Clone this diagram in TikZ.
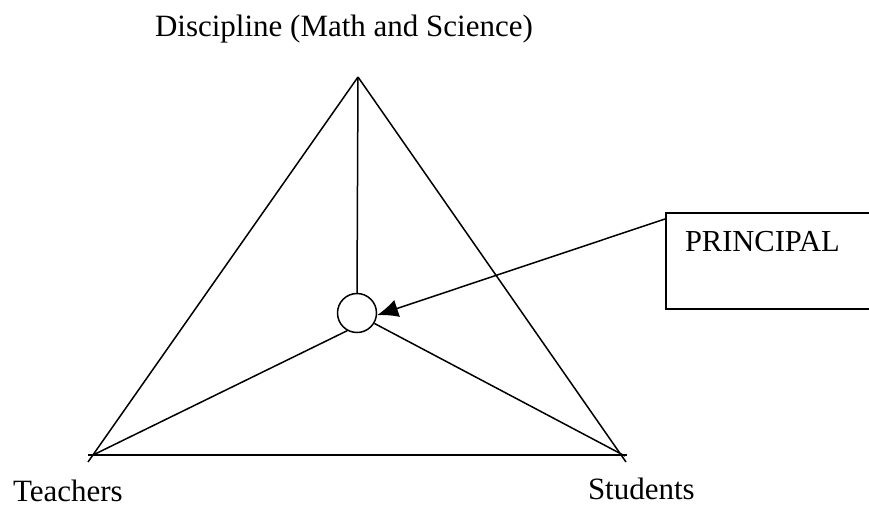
\documentclass[tikz,border=0pt]{standalone}
\usepackage{fontspec}
\setmainfont{Liberation Serif}
\usetikzlibrary{arrows.meta}
\begin{document}
\begin{tikzpicture}[x=1pt,y=-1pt,
  ln/.style={line width=1.5pt},
  lbl/.style={inner sep=0pt,outer sep=0pt,anchor=base west,font=\fontsize{31}{36}\selectfont},
  hub/.style={circle,draw,line width=1.5pt,minimum size=39pt,inner sep=0pt},
  boxst/.style={draw,line width=1.5pt,anchor=north west,minimum width=260pt,minimum height=96pt,inner sep=0pt}]
\useasboundingbox (0,0) rectangle (869,506);
% labels
\node[lbl] (disc) at (155,36) {Discipline (Math and Science)};
\node[lbl] (teach) at (13,501) {Teachers};
\node[lbl] (stud) at (588,499) {Students};
% triangle points
\coordinate (apex) at (358,77);
\coordinate (cl) at (88,462);
\coordinate (cr) at (626,462);
\coordinate (bl) at (88,455);
\coordinate (br) at (627,455);
\coordinate (sl) at (91,456);
\coordinate (sr) at (625,456);
% hub circle
\node[hub] (c) at (357,313) {};
% triangle
\draw[ln] (apex) -- (cl);
\draw[ln] (apex) -- (cr);
\draw[ln] (bl) -- (br);
% spokes
\draw[ln] (apex) -- (c.north);
\draw[ln] (c.241) -- (sl);
\draw[ln] (c.329) -- (sr);
% principal box
\begin{scope}
\clip (0,0) rectangle (869,506);
\node[boxst] (box) at (665,212) {};
\end{scope}
\node[lbl,font=\fontsize{30.5}{36}\selectfont] (prin) at (685,251) {PRINCIPAL};
\coordinate (as) at ([yshift=-7pt]box.north west);
\draw[ln,-{Latex[length=21pt,width=18pt]}] (as) -- (c.354);
\end{tikzpicture}
\end{document}
